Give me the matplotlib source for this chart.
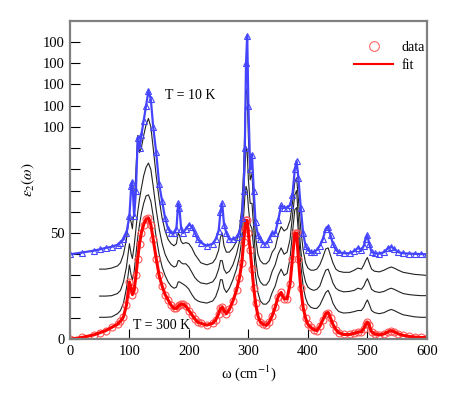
import matplotlib
matplotlib.use("Agg")
import matplotlib.pyplot as plt
from matplotlib.lines import Line2D
import numpy as np

plt.rcParams['font.family'] = ['Liberation Serif', 'DejaVu Serif']
plt.rcParams['mathtext.fontset'] = 'stix'

# frequency grid (cm^-1), shared by every spectrum
w = [0, 20, 40, 50, 60, 70, 80, 85, 90, 95,
     100, 103, 105, 108, 111, 114, 117, 120, 124, 128,
     132, 136, 140, 145, 150, 155, 160, 165, 170, 175,
     179, 182, 184, 187, 190, 195, 200, 205, 210, 215,
     220, 230, 240, 245, 250, 253, 256, 259, 263, 268,
     274, 280, 285, 289, 292, 294, 296, 298, 300, 303,
     306, 309, 312, 316, 320, 325, 330, 335, 340, 345,
     350, 355, 360, 365, 370, 374, 378, 381, 384, 388,
     392, 396, 400, 405, 410, 415, 420, 425, 430, 434,
     438, 442, 447, 452, 460, 470, 478, 484, 490, 494,
     497, 500, 503, 507, 512, 520, 528, 535, 540, 545,
     552, 560, 570, 580, 590, 600]

# T = 300 K (red)
eps_300 = [0, 0.8, 2, 3, 4, 5.5, 7, 8.5, 10.5, 16,
           27, 24, 21, 23, 30, 38, 45, 50, 54, 56.5,
           57, 54, 47, 38, 30, 25, 21, 18.5, 16, 14.5,
           14.5, 15.5, 16, 16.5, 16.5, 15.5, 13.5, 11.5, 9.5, 8,
           7.5, 6.6, 7.5, 9, 12, 14.5, 15, 13.5, 12, 14,
           18, 23, 29, 36, 46, 52, 56, 56, 50, 42,
           33, 24, 17, 11, 8, 7, 6.5, 8, 11, 15,
           20, 22, 19, 19, 26, 38, 50, 50, 38, 24,
           15, 10, 7, 5.5, 4.5, 4, 6, 9, 12, 12.5,
           10, 7, 4.5, 3, 2.2, 2.2, 2.8, 3.3, 3.5, 5,
           7, 8, 6.5, 3.5, 2.5, 2, 2.5, 3.5, 4, 3.5,
           2.5, 1.8, 1.3, 1, 0.8, 0.7]

# intermediate temperatures (black fits), start at w = 50
eps_b1 = [10.3, 10.3, 10.5, 12, 13.5, 17, 24,
          35, 30, 28, 32, 40, 48, 54, 59, 64, 67.5,
          68, 65, 58, 48, 40, 34, 30, 27, 25, 24,
          24.5, 27, 27, 26.5, 26, 25, 23.5, 21, 19, 18,
          17.5, 17, 18, 20, 24, 28, 28, 24, 22, 24,
          28, 33, 39, 47, 58, 67, 72, 70, 62, 54,
          52, 42, 30, 22, 18, 16.5, 16.5, 18, 22, 25,
          30, 33, 30, 31, 38, 50, 61, 62, 50, 35,
          25, 19.5, 16.5, 15, 14.5, 14.5, 16, 19, 22, 23,
          20.5, 17, 14.5, 13, 12.3, 12.5, 13, 13.5, 13.5, 15,
          17, 18.5, 16.5, 13.5, 12.5, 12, 12.5, 13.5, 14, 13.5,
          12.5, 11.5, 11, 10.5, 10.3, 10.3]

eps_b2 = [20.3, 20.3, 20.5, 21.5, 23, 27, 34,
          45, 40, 38, 44, 52, 60, 66, 71, 77, 81,
          83, 80, 72, 61, 52, 45, 40, 37, 35, 34,
          34.5, 37, 37, 36, 35.5, 35.5, 34, 31.5, 29, 27.5,
          26.5, 26, 27, 29, 33, 37, 37, 33, 31, 32,
          35, 40, 46, 55, 68, 80, 90, 88, 75, 64,
          64, 52, 38, 30, 27, 25.5, 25.5, 27.5, 32, 35,
          40, 43, 40, 41, 47, 58, 68, 70, 57, 42,
          32, 27, 24.5, 23.5, 23, 23.5, 25, 29, 32.5, 33,
          30, 26.5, 24, 23, 22.3, 22.5, 23, 24, 23.5, 25,
          27, 28.5, 26.5, 23.5, 22.5, 22, 22.5, 23.5, 24, 23.5,
          22.5, 21.5, 21, 20.7, 20.5, 20.5]

eps_b3 = [33, 33, 33.5, 34.5, 36, 40, 47,
          58, 55, 52, 62, 80, 96, 88, 90, 96, 101,
          104, 100, 90, 77, 66, 57, 51, 47, 45, 44,
          45, 50, 49, 46, 45, 45.5, 45, 43, 40, 38,
          36, 35, 36, 38, 42, 48, 50, 44, 41, 41,
          43, 46, 52, 62, 80, 100, 118, 115, 95, 75,
          78, 62, 48, 40, 37, 35.5, 35.5, 37, 41, 43,
          49, 53, 51, 52, 56, 64, 74, 76, 66, 52,
          42, 36, 33.5, 32.5, 32.5, 33, 35, 38.5, 42.5, 43,
          39.5, 36, 33, 32, 31.5, 31.5, 32.5, 33.5, 33, 35,
          37, 38.5, 36, 33, 32, 31.7, 32.5, 33.5, 34, 33.5,
          32.5, 31.5, 31, 30.5, 30.3, 30]

# T = 10 K (blue)
eps_10 = [40, 40.8, 41.7, 42.3, 43, 43.5, 44.5, 45.5, 47, 50,
          58, 72, 74, 58, 70, 95, 90, 96, 103, 110,
          117, 113, 100, 88, 73, 65, 57, 52, 50, 50,
          52, 64, 62, 52, 50, 52, 54, 53, 50, 47,
          45.5, 44, 45, 47, 51, 60, 64, 54, 50, 47,
          47, 48, 50, 57, 70, 90, 130, 143, 110, 80,
          87, 70, 55, 49, 47, 45, 45, 47, 50, 50,
          56, 63, 62, 62, 63, 68, 80, 84, 76, 62,
          50, 44, 42, 41, 41, 42, 44, 47, 52, 53,
          49, 45, 42, 41, 40.5, 40.5, 41.5, 43, 42, 44,
          47, 49, 45, 41, 40.5, 40.3, 41, 43, 43.5, 42.5,
          41, 40.5, 40.3, 40.2, 40.1, 40]

xticks = [0, 100, 200, 300, 400, 500, 600]
yticks = [0, 10, 20, 30, 40, 50, 60, 70, 80, 90, 100, 110, 120, 130, 140]
ytick_labels = ['0', '', '', '', '', '50', '', '', '', '', '100', '100', '100', '100', '100']

red = '#ff0000'
blue = '#4444ff'

fig = plt.figure(figsize=(4.63, 3.93), dpi=100)
ax = fig.add_axes([0.151, 0.137, 0.771, 0.81])

w_b = w[3:]
for eps in [eps_b1, eps_b2, eps_b3]:
    ax.plot(w_b, eps, color='#222222', lw=0.8)

ax.plot(w, eps_300, 'o', mfc='none', mec='#ff5555', ms=5, mew=0.8)
ax.plot(w, eps_300, color=red, lw=2.2)
ax.plot(w, eps_10, '^', mfc='none', mec=blue, ms=5, mew=0.8)
ax.plot(w, eps_10, color=blue, lw=1.6)

ax.text(160, 113, 'T = 10 K', fontsize=10)
ax.text(106, 5, 'T = 300 K', fontsize=10)

handles = [Line2D([], [], marker='o', ls='none', mfc='none', mec='#ff6666', ms=7, mew=0.8),
           Line2D([], [], color=red, lw=1.5)]
ax.legend(handles, ['data', 'fit'], loc='upper right', bbox_to_anchor=(1.03, 0.975),
          frameon=False, fontsize=10, handlelength=2.8, labelspacing=0.35, handletextpad=0.6)

ax.set_xlim(0, 600)
ax.set_ylim(0, 150)
ax.set_xticks(xticks)
ax.set_yticks(yticks)
ax.set_yticklabels(ytick_labels)
ax.tick_params(direction='in', length=7, width=0.8, labelsize=10.5, pad=4, top=False, right=False)
for s in ax.spines.values():
    s.set_color('#808080')
    s.set_linewidth(1.6)

ax.set_xlabel(r'ω (cm$^{-1}$)', fontsize=10.5)
ax.set_ylabel(r'$\varepsilon_2(\omega)$', fontsize=11)

fig.savefig('out.png', dpi=100)
